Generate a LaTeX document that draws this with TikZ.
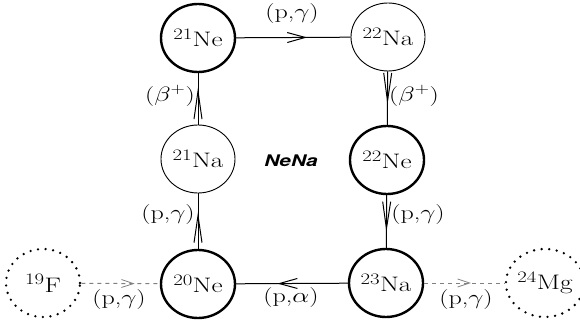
\documentclass[tikz,border=0pt]{standalone}
\usepackage{fontspec}
\newfontfamily\herosfont{TeX Gyre Heros}
\usepackage{graphicx}
\usetikzlibrary{arrows.meta,decorations.markings,shapes.geometric}
\newcommand\wx[1]{\scalebox{1.3}[1]{#1}}
\newcommand\iso[2]{\wx{\raisebox{0.36em}{\fontsize{16}{16}\selectfont #1}\kern0.3pt#2}}
\tikzset{
  nuc/.style={ellipse, minimum width=74pt, minimum height=68pt, inner sep=0pt,
    draw, font=\fontsize{21}{23}\selectfont},
  bold nuc/.style={nuc, line width=2.4pt},
  thin nuc/.style={nuc, line width=0.9pt},
  dot nuc/.style={nuc, line width=2.6pt, dash pattern=on 0pt off 7.6pt, line cap=round},
  lbl/.style={inner sep=0pt, font=\fontsize{20}{22}\selectfont},
  conn/.style n args={3}{line width=1pt, postaction={decorate},
    decoration={markings, mark=at position #1 with
      {\arrow[line width=1pt]{Straight Barb[length=#2,width=#3]}}}},
  dconn/.style={draw=gray, line width=1pt, dash pattern=on 4pt off 4pt, postaction={decorate},
    decoration={markings, mark=at position #1 with
      {\arrow[line width=0.8pt, gray]{Straight Barb[length=12pt,width=8pt]}}}},
}
\begin{document}
\begin{tikzpicture}[x=1pt,y=-1pt]
\useasboundingbox (0,0) rectangle (580,328);
% nuclei
\node[bold nuc] (ne21) at (198,38) {\iso{21}{Ne}};
\node[thin nuc] (na22) at (388,37) {\iso{22}{Na}};
\node[thin nuc] (na21) at (198,159) {\iso{21}{Na}};
\node[bold nuc] (ne22) at (387,160) {\iso{22}{Ne}};
\node[bold nuc] (ne20) at (198,284) {\iso{20}{Ne}};
\node[bold nuc] (na23) at (386,283) {\iso{23}{Na}};
\node[dot nuc] (f19) at (43,283) {\iso{19}{F}};
\node[dot nuc] (mg24) at (545,283) {\iso{24}{Mg}};
% connectors
\draw[conn={0.62}{18pt}{10pt}] (ne21) -- (na22);
\draw[conn={0.72}{28pt}{8pt}] (na21) -- (ne21);
\draw[conn={0.62}{28pt}{8pt}] (na22) -- (ne22);
\draw[conn={0.66}{27pt}{8pt}] (ne20) -- (na21);
\draw[conn={0.70}{27pt}{8pt}] (ne22) -- (na23);
\draw[conn={0.63}{18pt}{10pt}] (na23) -- (ne20);
\draw[dconn=0.68] (f19) -- (ne20);
\draw[dconn=0.58] (na23) -- (mg24);
% labels
\node[lbl] (l1) at (292,14) {\wx{(p,$\gamma$)}};
\node[lbl] (l2) at (170,96) {\wx{($\beta^+$)}};
\node[lbl] (l3) at (414,96) {\wx{($\beta^+$)}};
\node[lbl] (l4) at (168,215) {\wx{(p,$\gamma$)}};
\node[lbl] (l5) at (418,215) {\wx{(p,$\gamma$)}};
\node[lbl] (l6) at (291,298) {\wx{(p,$\alpha$)}};
\node[lbl] (l7) at (119,300) {\wx{(p,$\gamma$)}};
\node[lbl] (l8) at (466,300) {\wx{(p,$\gamma$)}};
\node[inner sep=0pt, font=\fontsize{16}{18}\selectfont\herosfont\bfseries\itshape] (nena) at (291,161) {\wx{NeNa}};
\end{tikzpicture}
\end{document}
